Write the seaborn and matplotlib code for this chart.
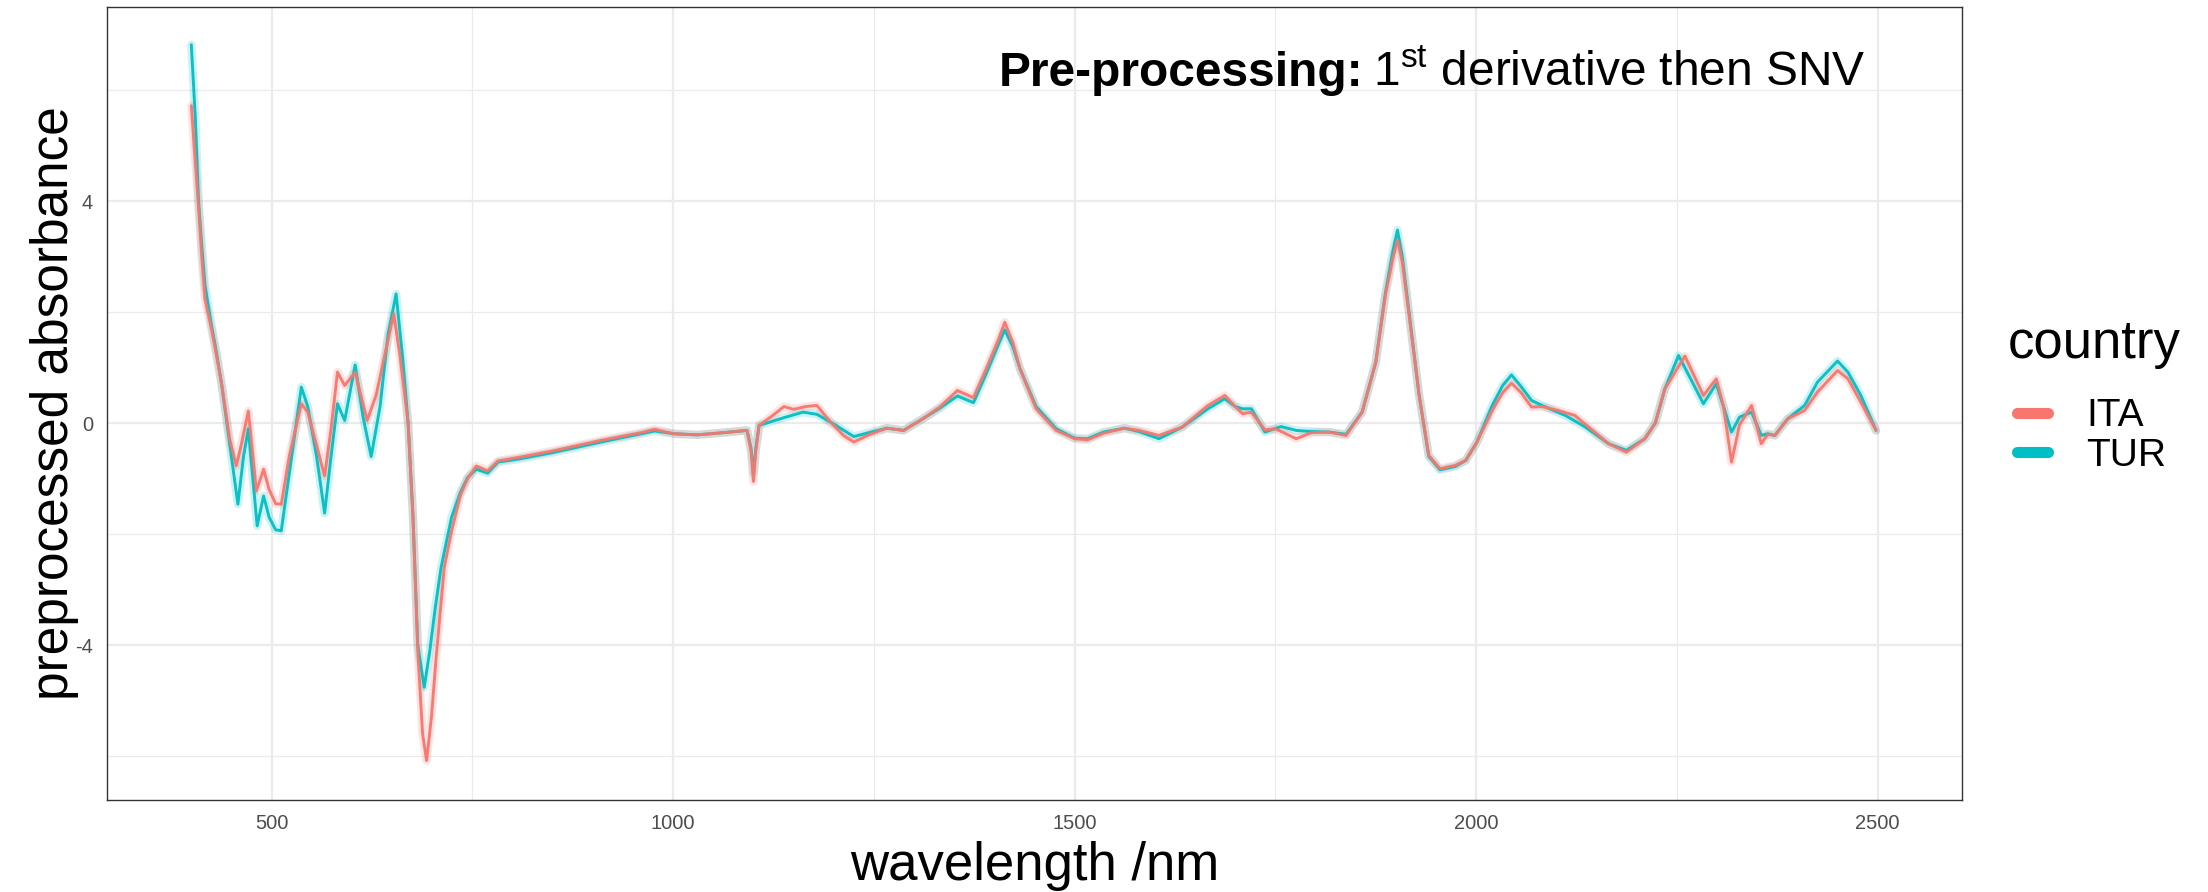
import numpy as np
import pandas as pd
import seaborn as sns
import matplotlib.pyplot as plt
from matplotlib.lines import Line2D
from matplotlib.ticker import MultipleLocator

# values (wavelength in nm, preprocessed absorbance)
ita_wl = [400, 404, 409, 413, 417, 425, 431, 438, 448, 456, 462, 471, 476, 481, 490, 497, 505, 512,
          522, 537, 545, 556, 566, 574, 582, 591, 604, 612, 619, 630, 642, 652, 660,
          670, 676, 682, 688, 693, 699, 705, 715, 724, 735, 744, 755, 769, 782, 806,
          850, 910, 960, 977, 1001, 1030, 1063, 1092, 1097, 1100, 1103, 1107, 1125,
          1138, 1150, 1165, 1179, 1196, 1212, 1225, 1245, 1266, 1287, 1311, 1332, 1354,
          1374, 1390, 1405, 1413, 1423, 1432, 1452, 1477, 1500, 1516, 1536, 1562, 1580, 1605, 1634,
          1666, 1687, 1700, 1709, 1720, 1737, 1750, 1776, 1795, 1817, 1838, 1858, 1875,
          1887, 1896, 1902, 1908, 1916, 1929, 1941, 1955, 1974, 1987, 2001, 2020, 2033, 2044, 2056, 2069, 2082,
          2102, 2123, 2136, 2165, 2187, 2210, 2223, 2235, 2260, 2283, 2299, 2308, 2318,
          2328, 2343, 2355, 2363, 2372, 2388, 2409, 2425, 2450, 2463, 2479, 2498]
ita_val = [5.72, 4.9, 3.9, 3.0, 2.24, 1.7, 1.25, 0.68, -0.3, -0.77, -0.4, 0.22, -0.5, -1.22, -0.83, -1.2, -1.45, -1.46,
           -0.6, 0.35, 0.2, -0.4, -0.95, -0.1, 0.92, 0.68, 0.92, 0.45, 0.05, 0.5, 1.3, 1.97, 1.2,
           0.0, -1.7, -4.1, -5.6, -6.08, -5.3, -4.2, -2.6, -1.95, -1.3, -1.0, -0.77, -0.86, -0.68, -0.62,
           -0.5, -0.31, -0.17, -0.11, -0.19, -0.21, -0.17, -0.13, -0.5, -1.05, -0.5, -0.04, 0.15,
           0.3, 0.25, 0.3, 0.32, 0.02, -0.22, -0.34, -0.2, -0.09, -0.13, 0.08, 0.29, 0.59,
           0.46, 0.98, 1.5, 1.82, 1.45, 0.98, 0.26, -0.13, -0.28, -0.3, -0.18, -0.09, -0.13, -0.22, -0.07,
           0.32, 0.5, 0.3, 0.17, 0.2, -0.12, -0.1, -0.28, -0.17, -0.16, -0.22, 0.2, 1.1,
           2.31, 2.95, 3.3, 2.9, 2.0, 0.5, -0.58, -0.82, -0.76, -0.67, -0.34, 0.23, 0.55, 0.72, 0.55, 0.29, 0.3,
           0.23, 0.14, -0.02, -0.37, -0.52, -0.28, 0.0, 0.62, 1.21, 0.5, 0.8, 0.3, -0.7,
           -0.03, 0.32, -0.37, -0.2, -0.22, 0.08, 0.23, 0.56, 0.95, 0.8, 0.38, -0.13]

tur_wl = [400, 405, 409, 413, 417, 425, 431, 438, 448, 458, 465, 471, 476, 482, 490, 497, 505, 512,
          522, 537, 545, 556, 566, 574, 582, 591, 604, 614, 624, 635, 645, 655, 663,
          670, 676, 682, 690, 697, 704, 711, 724, 735, 744, 755, 769, 782, 806,
          850, 910, 960, 977, 1001, 1030, 1063, 1092, 1097, 1100, 1103, 1107, 1138,
          1162, 1179, 1196, 1225, 1266, 1287, 1311, 1332, 1354, 1374, 1390, 1405, 1413, 1423, 1432,
          1452, 1477, 1500, 1516, 1536, 1562, 1580, 1605, 1634, 1666, 1687, 1700, 1709,
          1720, 1737, 1757, 1776, 1795, 1817, 1838, 1858, 1875, 1887, 1896, 1902, 1908, 1916, 1929,
          1941, 1955, 1974, 1987, 2001, 2020, 2033, 2044, 2056, 2069, 2082, 2111, 2136, 2165, 2187,
          2210, 2223, 2235, 2252, 2283, 2299, 2318, 2328, 2343, 2355, 2363, 2372, 2388,
          2409, 2425, 2450, 2463, 2479, 2498]
tur_val = [6.82, 5.5, 4.0, 3.2, 2.49, 1.77, 1.3, 0.68, -0.4, -1.46, -0.6, -0.1, -0.9, -1.85, -1.31, -1.7, -1.92, -1.94,
           -0.9, 0.65, 0.3, -0.6, -1.62, -0.6, 0.35, 0.05, 1.05, 0.1, -0.6, 0.3, 1.6, 2.33, 1.2,
           0.0, -1.66, -4.0, -4.76, -4.1, -3.3, -2.6, -1.7, -1.25, -0.98, -0.83, -0.9, -0.7, -0.65,
           -0.53, -0.34, -0.19, -0.14, -0.19, -0.21, -0.17, -0.13, -0.45, -0.9, -0.45, -0.04, 0.1,
           0.2, 0.16, 0.02, -0.24, -0.09, -0.13, 0.08, 0.27, 0.49, 0.37, 0.9, 1.42, 1.68, 1.38, 0.98,
           0.3, -0.1, -0.27, -0.28, -0.16, -0.09, -0.15, -0.28, -0.07, 0.26, 0.44, 0.3, 0.26,
           0.26, -0.16, -0.06, -0.13, -0.15, -0.16, -0.2, 0.2, 1.1, 2.35, 3.08, 3.48, 3.0, 2.05, 0.5,
           -0.6, -0.84, -0.78, -0.67, -0.34, 0.32, 0.68, 0.87, 0.66, 0.41, 0.32, 0.14, -0.07, -0.37, -0.49,
           -0.28, 0.0, 0.62, 1.22, 0.35, 0.71, -0.16, 0.11, 0.2, -0.22, -0.19, -0.22, 0.08,
           0.32, 0.74, 1.12, 0.92, 0.5, -0.13]

countries = ["ITA", "TUR"]
colors = {"ITA": "#F8766D", "TUR": "#00BFC4"}

df = pd.concat([
    pd.DataFrame({"wavelength": tur_wl, "absorbance": tur_val, "country": "TUR"}),
    pd.DataFrame({"wavelength": ita_wl, "absorbance": ita_val, "country": "ITA"}),
], ignore_index=True)

sns.set_style("white")
plt.rcParams['font.family'] = ['Liberation Sans', 'DejaVu Sans']
plt.rcParams['text.color'] = 'black'
plt.rcParams['axes.labelcolor'] = 'black'
plt.rcParams['axes.unicode_minus'] = False

fig = plt.figure(figsize=(22.08, 8.92), dpi=100)
ax = fig.add_axes([107 / 2208, 92 / 892, 1855 / 2208, 793 / 892])

# faint halo to mimic the bundle of individual spectra, then the main lines
sns.lineplot(data=df, x="wavelength", y="absorbance", hue="country", palette=colors,
             estimator=None, sort=False, lw=6, alpha=0.2, legend=False, ax=ax)
sns.lineplot(data=df, x="wavelength", y="absorbance", hue="country", palette=colors,
             estimator=None, sort=False, lw=2.1, alpha=0.95, legend=False, ax=ax)

ax.set_xlim(295, 2605)
ax.set_ylim(-6.79, 7.5)
ax.xaxis.set_major_locator(MultipleLocator(500))
ax.xaxis.set_minor_locator(MultipleLocator(250))
ax.yaxis.set_major_locator(MultipleLocator(4))
ax.yaxis.set_minor_locator(MultipleLocator(2))
ax.grid(which="major", color="#EBEBEB", lw=1.6)
ax.grid(which="minor", color="#EBEBEB", lw=0.9)
ax.set_axisbelow(True)
for s in ax.spines.values():
    s.set_color("#333333")
    s.set_linewidth(1.0)
ax.tick_params(which="major", length=5, width=1.3, color="#333333",
               labelcolor="#4D4D4D", labelsize=14.5, pad=5)
ax.tick_params(which="minor", length=0)

ax.set_xlabel("wavelength /nm", fontsize=38, labelpad=6)
ax.set_ylabel("preprocessed absorbance", fontsize=37, labelpad=-3)

# annotation: bold lead then regular text with superscript
t2 = ax.text(0.948, 0.9, r"1$^{\mathregular{st}}$ derivative then SNV", transform=ax.transAxes,
             ha="right", va="baseline", fontsize=34.5)
fig.canvas.draw()
bb = t2.get_window_extent()
x0 = ax.transAxes.inverted().transform((bb.x0, bb.y0))[0]
ax.text(x0 - 0.005, 0.9, "Pre-processing:", transform=ax.transAxes, ha="right",
        va="baseline", fontsize=34.5, fontweight="bold")

fig.text(2008 / 2208, 1 - 344 / 892, "country", fontsize=38, ha="left", va="center")
handles = [Line2D([0], [0], color=colors[c], lw=8) for c in countries]
fig.legend(handles, countries, loc="center left",
           bbox_to_anchor=(2001 / 2208, 1 - 436 / 892), frameon=False,
           fontsize=28, handlelength=0.8, handletextpad=1.0,
           labelspacing=0.08, borderaxespad=0)

fig.savefig("out.png", dpi=100)
